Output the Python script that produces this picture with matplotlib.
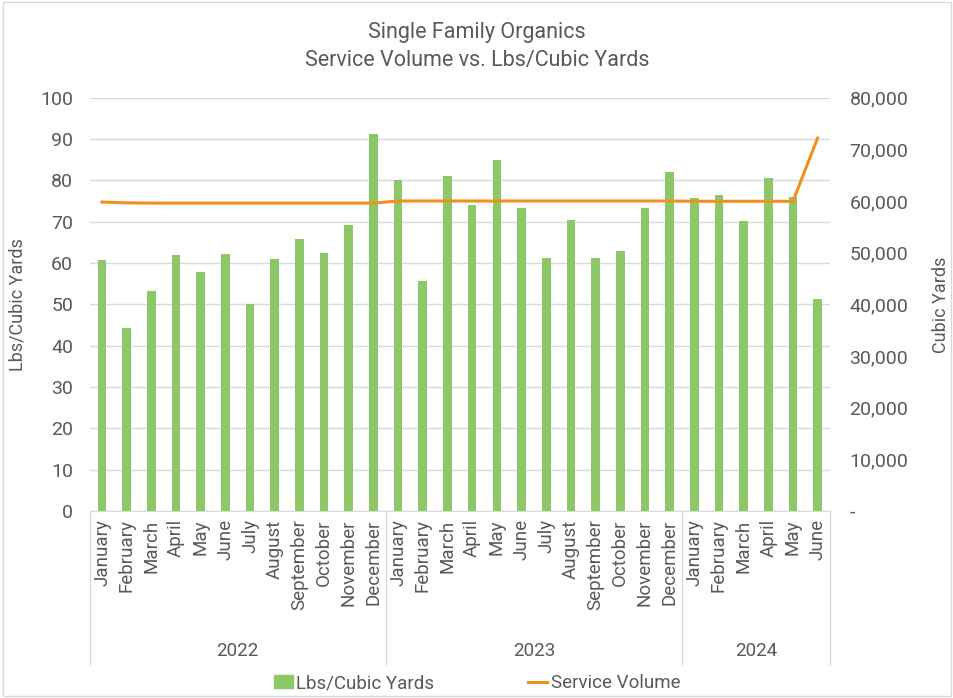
import numpy as np
import matplotlib
matplotlib.use("Agg")
import matplotlib.pyplot as plt
from matplotlib.patches import Rectangle
from matplotlib.lines import Line2D

plt.rcParams['font.family'] = ['Roboto', 'DejaVu Sans']

months = ["January", "February", "March", "April", "May", "June", "July", "August",
          "September", "October", "November", "December"]
years = ["2022", "2023", "2024"]
months_per_year = [12, 12, 6]
labels = months + months + months[:6]

lbs_per_cy = [60.7, 44.3, 53.3, 62.0, 57.8, 62.2, 50.2, 61.0, 65.9, 62.5, 69.1, 91.1,
              80.2, 55.6, 81.1, 74.0, 85.0, 73.3, 61.2, 70.3, 61.2, 63.0, 73.3, 82.1,
              75.8, 76.5, 70.1, 80.6, 76.0, 51.3]
service_volume = [59800, 59650, 59600, 59600, 59600, 59600, 59600, 59600, 59600, 59600, 59600, 59600,
                  60000, 60000, 60000, 60000, 60000, 60000, 60000, 60000, 60000, 60000, 60000, 60000,
                  59950, 59950, 59950, 59950, 59950, 72200]

green = "#8cc768"
orange = "#f0901e"
txt = "#595959"
grid = "#d9d9d9"

fig = plt.figure(figsize=(9.54, 6.98), dpi=100)
ax = fig.add_axes([0.094, 0.268, 0.776, 0.592])
x = np.arange(len(labels))
ax.bar(x, lbs_per_cy, width=0.35, color=green, zorder=2)
ax.set_xlim(-0.5, len(labels) - 0.5)
ax.set_ylim(0, 100)
ax.set_yticks(range(0, 101, 10))
ax.yaxis.grid(True, color=grid, lw=1, zorder=0)
for s in ax.spines.values():
    s.set_visible(False)
ax.spines['bottom'].set_visible(True)
ax.spines['bottom'].set_color(grid)
ax.tick_params(axis='y', length=0, labelsize=14, labelcolor=txt, pad=12)
ax.set_xticks(x)
ax.set_xticklabels(labels, rotation=90, fontsize=13.5, color=txt)
ax.tick_params(axis='x', length=0, pad=6)
ax.set_ylabel("Lbs/Cubic Yards", fontsize=13, color=txt, labelpad=10)

ax2 = ax.twinx()
ax2.plot(x, service_volume, color=orange, lw=2.2, zorder=3)
ax2.set_ylim(0, 80000)
ax2.set_yticks(range(0, 80001, 10000))
ax2.set_yticklabels(["-"] + [f"{v:,}" for v in range(10000, 80001, 10000)])
for s in ax2.spines.values():
    s.set_visible(False)
ax2.tick_params(axis='y', length=0, labelsize=14, labelcolor=txt, pad=14)
ax2.set_ylabel("Cubic Yards", fontsize=13, color=txt, rotation=90, labelpad=17)

# group separators and year labels
trans = ax.get_xaxis_transform()
bounds = np.concatenate([[0], np.cumsum(months_per_year)]) - 0.5
y_low = -0.37
for b in bounds:
    ax.add_line(Line2D([b, b], [0, y_low], transform=trans, color=grid, lw=1, clip_on=False))
for i, yr in enumerate(years):
    ax.text((bounds[i] + bounds[i + 1]) / 2, -0.34, yr, transform=trans,
            ha='center', va='center', fontsize=13.5, color=txt)

fig.text(0.5, 0.953, "Single Family Organics", ha='center', va='center', fontsize=15.5, color=txt)
fig.text(0.5, 0.913, "Service Volume vs. Lbs/Cubic Yards", ha='center', va='center', fontsize=15.5, color=txt)

handles = [Rectangle((0, 0), 1, 1, color=green), Line2D([0], [0], color=orange, lw=2.2)]
fig.legend(handles, ["Lbs/Cubic Yards", "Service Volume"], loc='center', bbox_to_anchor=(0.5, 0.021),
           ncol=2, frameon=False, fontsize=13.5, labelcolor=txt, handlelength=1.0,
           handletextpad=0.2, columnspacing=5)

fig.add_artist(Rectangle((0.003, 0.003), 0.994, 0.994, transform=fig.transFigure,
                         fill=False, edgecolor=grid, lw=1))

fig.savefig("out.png", dpi=100)
